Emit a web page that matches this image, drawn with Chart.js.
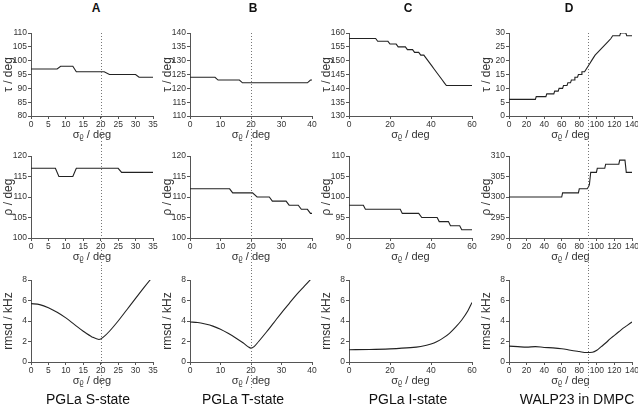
<!DOCTYPE html>
<html>
<head>
<meta charset="utf-8">
<script src="https://cdn.jsdelivr.net/npm/chart.js@4/dist/chart.umd.min.js"></script>
<style>
  body { margin: 0; background: #fff; }
  #fig { position: relative; width: 638px; height: 409px; overflow: hidden; font-family: "Liberation Sans", Arial, sans-serif; color: #111; }
  #fig canvas { position: absolute; }
  .head { position: absolute; font-weight: bold; font-size: 12px; transform: translate(-50%, -50%); }
  .foot { position: absolute; font-size: 14px; transform: translate(-50%, -50%); white-space: nowrap; }
</style>
</head>
<body>
<div id="fig"></div>
<script>
// panel letters, sample names, position of the dotted line (best sigma)
const panelTitles = ['A', 'B', 'C', 'D'];
const sampleNames = ['PGLa S-state', 'PGLa T-state', 'PGLa I-state', 'WALP23 in DMPC'];
const bestSigma = [20, 20, null, 90];

// tick labels
const sigmaTicksA = [0, 5, 10, 15, 20, 25, 30, 35];
const sigmaTicksB = [0, 10, 20, 30, 40];
const sigmaTicksC = [0, 20, 40, 60];
const sigmaTicksD = [0, 20, 40, 60, 80, 100, 120, 140];
const tauTicksA = [80, 85, 90, 95, 100, 105, 110];
const tauTicksB = [110, 115, 120, 125, 130, 135, 140];
const tauTicksC = [130, 135, 140, 145, 150, 155, 160];
const tauTicksD = [0, 5, 10, 15, 20, 25, 30];
const rhoTicksA = [100, 105, 110, 115, 120];
const rhoTicksB = [100, 105, 110, 115, 120];
const rhoTicksC = [90, 95, 100, 105, 110];
const rhoTicksD = [290, 295, 300, 305, 310];
const rmsdTicks = [0, 2, 4, 6, 8];

// tau vs sigma
const tauA_s = [0, 7.5, 8.5, 12, 13, 21, 22.5, 30, 31, 35];
const tauA = [97, 97, 98, 98, 96, 96, 95, 95, 94, 94];
const tauB_s = [0, 8.2, 9.2, 16.2, 17.2, 38.5, 39.5, 40];
const tauB = [124, 124, 123, 123, 122, 122, 123, 123];
const tauC_s = [0, 13, 14, 19, 20, 23, 24, 27.5, 28.5, 31, 32, 34, 35, 36.5, 37.5, 38.5, 39.5, 40.5, 41.5, 42.5, 43.5, 44.5, 45.5, 46.5, 47.5, 60];
const tauC = [158, 158, 157, 157, 156, 156, 155, 155, 154, 154, 153, 153, 152, 152, 151, 150, 149, 148, 147, 146, 145, 144, 143, 142, 141, 141];
const tauD_s = [0, 30, 31, 42, 43, 51, 52, 56, 57, 61, 62, 66, 67, 70, 71, 74, 75, 78, 79, 82, 83, 86, 88, 90, 92, 94, 96, 98, 101, 104, 107, 110, 113, 116, 118, 126, 127, 133, 134, 140];
const tauD = [6, 6, 7, 7, 8, 8, 9, 9, 10, 10, 11, 11, 12, 12, 13, 13, 14, 14, 15, 15, 16, 16, 17, 18, 19, 20, 21, 22, 23, 24, 25, 26, 27, 28, 29, 29, 30, 30, 29, 29];

// rho vs sigma
const rhoA_s = [0, 7, 8, 12, 13, 25, 26, 35];
const rhoA = [117, 117, 115, 115, 117, 117, 116, 116];
const rhoB_s = [0, 13, 14, 20.5, 22, 26, 27, 31.5, 32.5, 35.5, 36.5, 38.5, 39.5, 40];
const rhoB = [112, 112, 111, 111, 110, 110, 109, 109, 108, 108, 107, 107, 106, 106];
const rhoC_s = [0, 7, 8, 25, 26, 34, 35.5, 43, 44, 48.5, 49.5, 54, 55, 60];
const rhoC = [98, 98, 97, 97, 96, 96, 95, 95, 94, 94, 93, 93, 92, 92];
const rhoD_s = [0, 60, 61, 79, 80, 89, 90.5, 91.5, 93, 99.5, 100.5, 109, 110, 125, 126, 132, 133.5, 140];
const rhoD = [300, 300, 301, 301, 302, 302, 302.5, 303, 306, 306, 307, 307, 308, 308, 309, 309, 306, 306];

// rmsd vs sigma
const rmsdA_s = [0, 2.5, 5, 7.5, 10, 12.5, 15, 17.5, 19.5, 21, 22.5, 25, 27.5, 30, 32.5, 35];
const rmsdA = [5.7, 5.6, 5.3, 4.85, 4.3, 3.65, 3.0, 2.45, 2.2, 2.5, 3.0, 4.0, 5.1, 6.2, 7.3, 8.35];
const rmsdB_s = [0, 2.5, 5, 7.5, 10, 12.5, 15, 17.5, 19, 20, 21, 22.5, 25, 27.5, 30, 32.5, 35, 37.5, 40];
const rmsdB = [3.9, 3.85, 3.7, 3.5, 3.2, 2.8, 2.35, 1.85, 1.5, 1.35, 1.5, 2.0, 2.9, 3.85, 4.8, 5.7, 6.6, 7.4, 8.2];
const rmsdC_s = [0, 10, 20, 30, 35, 40, 43, 46, 49, 52, 55, 58, 60];
const rmsdC = [1.2, 1.22, 1.28, 1.4, 1.52, 1.75, 2.0, 2.35, 2.8, 3.4, 4.1, 5.0, 5.8];
const rmsdD_s = [0, 10, 20, 30, 40, 50, 60, 70, 80, 88, 95, 100, 105, 110, 115, 120, 125, 130, 135, 140];
const rmsdD = [1.55, 1.5, 1.45, 1.5, 1.42, 1.38, 1.3, 1.15, 1.02, 0.92, 0.95, 1.15, 1.5, 1.85, 2.25, 2.6, 2.95, 3.3, 3.6, 3.9];

// layout of the grid
const colPlotLeft = [31, 190, 349, 509];
const colPlotWidth = [122, 122, 123, 123];
const colHeadX = [96, 253, 408, 569];
const colFootX = [88, 243, 408, 577];
const rowCanvasTop = [20, 145, 270];
const rowCanvasBottom = [145, 270, 409];
const rowPlotTop = [33, 156, 280];
const rowPlotBottom = [116, 238, 362];
const rowXTitleY = [135, 257, 381];
const yAxisWidth = 31;
const padRight = 10;

const axisColor = '#555';
const textColor = '#333';
const fig = document.getElementById('fig');

const vlinePlugin = {
  id: 'vline',
  afterDraw(chart, args, opts) {
    if (opts.value == null) return;
    const ctx = chart.ctx;
    const x = Math.round(chart.scales.x.getPixelForValue(opts.value)) + 0.5;
    const top = opts.fromArea ? chart.chartArea.top : 0;
    const bottom = chart.height - opts.bottomInset;
    ctx.save();
    ctx.strokeStyle = '#777';
    ctx.lineWidth = 1;
    ctx.setLineDash([1, 2]);
    ctx.beginPath();
    ctx.moveTo(x, top);
    ctx.lineTo(x, bottom);
    ctx.stroke();
    ctx.restore();
  }
};

function setTicks(list) {
  return scale => { scale.ticks = list.map(v => ({ value: v })); };
}

function panel(col, row, xs, ys, xTicks, yTicks, yTitle, smooth) {
  const canvas = document.createElement('canvas');
  const top = rowCanvasTop[row];
  const height = rowCanvasBottom[row] - top;
  const width = yAxisWidth + colPlotWidth[col] + padRight;
  canvas.width = width;
  canvas.height = height;
  canvas.style.left = (colPlotLeft[col] - yAxisWidth) + 'px';
  canvas.style.top = top + 'px';
  canvas.style.width = width + 'px';
  canvas.style.height = height + 'px';
  fig.appendChild(canvas);

  const padTop = rowPlotTop[row] - top;
  const xAxisHeight = rowCanvasBottom[row] - rowPlotBottom[row];
  const titleLine = 11 * 1.2;
  const xTitlePad = rowCanvasBottom[row] - rowXTitleY[row] - titleLine / 2;

  new Chart(canvas, {
    type: 'line',
    data: {
      datasets: [{
        data: xs.map((x, i) => ({ x: x, y: ys[i] })),
        borderColor: '#222',
        borderWidth: 1.1,
        pointRadius: 0,
        fill: false,
        cubicInterpolationMode: smooth ? 'monotone' : 'default',
        tension: 0
      }]
    },
    options: {
      responsive: false,
      animation: false,
      devicePixelRatio: 1,
      layout: { padding: { top: padTop, right: padRight, bottom: 0, left: 0 } },
      plugins: {
        legend: { display: false },
        tooltip: { enabled: false },
        vline: {
          value: bestSigma[col],
          fromArea: row === 0,
          bottomInset: row === 2 ? 21 : 0
        }
      },
      scales: {
        x: {
          type: 'linear',
          min: xTicks[0],
          max: xTicks[xTicks.length - 1],
          afterBuildTicks: setTicks(xTicks),
          afterFit: s => { s.height = xAxisHeight; },
          grid: { drawOnChartArea: false, tickLength: 3, color: axisColor },
          border: { color: axisColor, width: 1 },
          ticks: { font: { size: 8.5, family: 'Liberation Sans' }, color: textColor, padding: 1, maxRotation: 0, autoSkip: false },
          title: { display: true, text: 'σᵨ / deg', color: textColor, font: { size: 11, family: 'Liberation Sans' }, padding: { top: 0, bottom: xTitlePad } }
        },
        y: {
          min: yTicks[0],
          max: yTicks[yTicks.length - 1],
          afterBuildTicks: setTicks(yTicks),
          afterFit: s => { s.width = yAxisWidth; },
          grid: { drawOnChartArea: false, tickLength: 3, color: axisColor },
          border: { color: axisColor, width: 1 },
          ticks: { font: { size: 8.5, family: 'Liberation Sans' }, color: textColor, padding: 1 },
          title: { display: true, text: yTitle, color: textColor, font: { size: 12, family: 'Liberation Sans' }, padding: { top: 1.5, bottom: 0 } }
        }
      }
    },
    plugins: [vlinePlugin]
  });
}

const tauS = [tauA_s, tauB_s, tauC_s, tauD_s];
const tauV = [tauA, tauB, tauC, tauD];
const rhoS = [rhoA_s, rhoB_s, rhoC_s, rhoD_s];
const rhoV = [rhoA, rhoB, rhoC, rhoD];
const rmsdS = [rmsdA_s, rmsdB_s, rmsdC_s, rmsdD_s];
const rmsdV = [rmsdA, rmsdB, rmsdC, rmsdD];
const sigmaTicks = [sigmaTicksA, sigmaTicksB, sigmaTicksC, sigmaTicksD];
const tauTicks = [tauTicksA, tauTicksB, tauTicksC, tauTicksD];
const rhoTicks = [rhoTicksA, rhoTicksB, rhoTicksC, rhoTicksD];

for (let c = 0; c < 4; c++) {
  panel(c, 0, tauS[c], tauV[c], sigmaTicks[c], tauTicks[c], 'τ / deg', false);
  panel(c, 1, rhoS[c], rhoV[c], sigmaTicks[c], rhoTicks[c], 'ρ / deg', false);
  panel(c, 2, rmsdS[c], rmsdV[c], sigmaTicks[c], rmsdTicks, 'rmsd / kHz', true);

  const head = document.createElement('div');
  head.className = 'head';
  head.textContent = panelTitles[c];
  head.style.left = colHeadX[c] + 'px';
  head.style.top = '8px';
  fig.appendChild(head);

  const foot = document.createElement('div');
  foot.className = 'foot';
  foot.textContent = sampleNames[c];
  foot.style.left = colFootX[c] + 'px';
  foot.style.top = '399px';
  fig.appendChild(foot);
}
</script>
</body>
</html>
